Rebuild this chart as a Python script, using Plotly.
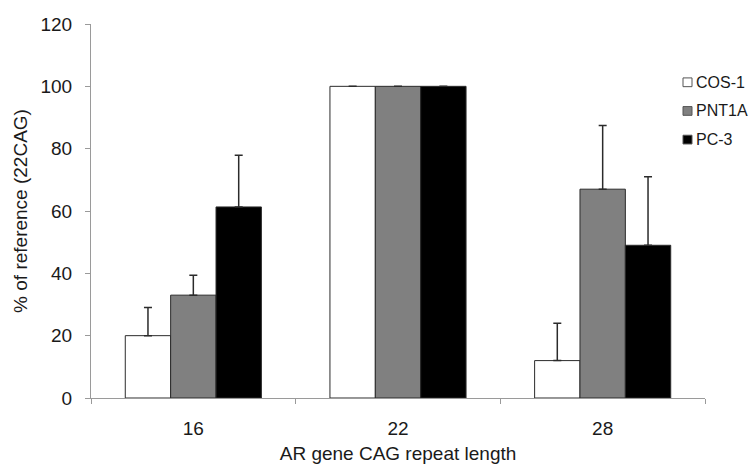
import plotly.graph_objects as go

categories = ["16", "22", "28"]
series_names = ["COS-1", "PNT1A", "PC-3"]
cos1 = [20, 100, 12]
cos1_err = [9, None, 12]
pnt1a = [33, 100, 67]
pnt1a_err = [6.4, None, 20.4]
pc3 = [61.3, 100, 49]
pc3_err = [16.6, None, 22]
y_ticks = [0, 20, 40, 60, 80, 100, 120]

values = [cos1, pnt1a, pc3]
errors = [cos1_err, pnt1a_err, pc3_err]
fills = ["#FFFFFF", "#808080", "#000000"]

FONT = "Liberation Sans, Arial, sans-serif"
TXT = "#1a1a1a"
AX = "#9a9a9a"

fig = go.Figure()
for name, vals, errs, fc in zip(series_names, values, errors, fills):
    fig.add_trace(go.Bar(
        name=name, x=categories, y=vals,
        marker=dict(color=fc, line=dict(color="#2b2b2b", width=1)),
        error_y=dict(type="data", symmetric=False, array=errs,
                     arrayminus=[0] * len(errs), color="#2b2b2b",
                     thickness=1.5, width=4),
        showlegend=False,
    ))

# legend drawn as real text + swatches in paper coordinates
leg_top = 84
leg_step = 29.5
for i, (name, fc) in enumerate(zip(series_names, fills)):
    yc = leg_top + i * leg_step
    fig.add_shape(type="rect", xref="paper", yref="paper",
                  x0=(683 - 91) / 614, x1=(692 - 91) / 614,
                  y0=(409 - (yc + 4.5)) / 385, y1=(409 - (yc - 4.5)) / 385,
                  fillcolor=fc, line=dict(color="#555555", width=1))
    fig.add_annotation(xref="paper", yref="paper",
                       x=(694 - 91) / 614, y=(409 - yc) / 385,
                       xanchor="left", yanchor="middle", showarrow=False,
                       text=name, font=dict(family=FONT, size=16, color=TXT))

fig.update_layout(
    width=755, height=472,
    margin=dict(l=91, r=50, t=24, b=63),
    paper_bgcolor="white", plot_bgcolor="white",
    barmode="group", bargap=0.335, bargroupgap=0,
    font=dict(family=FONT, size=19, color=TXT),
    xaxis=dict(
        type="category", tickson="boundaries", ticks="outside", ticklen=5,
        tickcolor=AX, showline=True, linecolor=AX, linewidth=1,
        showgrid=False, tickfont=dict(size=19), ticklabelstandoff=13,
        title=dict(text="AR gene CAG repeat length", font=dict(size=19), standoff=8),
    ),
    yaxis=dict(
        range=[0, 120], tickvals=y_ticks, ticks="outside", ticklen=5,
        tickcolor=AX, showline=True, linecolor=AX, linewidth=1,
        showgrid=False, zeroline=False, tickfont=dict(size=19),
        ticklabelstandoff=9,
        title=dict(text="% of reference (22CAG)", font=dict(size=19), standoff=7),
    ),
)

fig.write_html("out.html", config={"displayModeBar": False},
               post_script="document.body.style.margin='0';")
